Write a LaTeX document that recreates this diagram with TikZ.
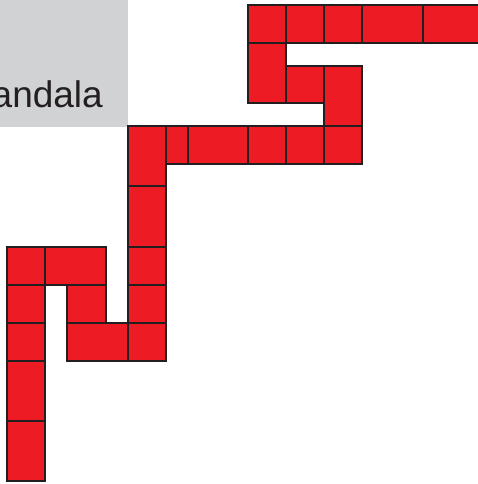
\documentclass[tikz,border=0pt]{standalone}
\usepackage{fontspec}
\setmainfont{Liberation Sans}

\begin{document}
\begin{tikzpicture}[x=1pt, y=-1pt,
    tile/.style={fill=tileColour, draw=borderColour, line width=2.8pt, line join=miter}]

    % Define the colours
    \definecolor{borderColour}{HTML}{231F20}
    \definecolor{tileColour}{HTML}{ED1C24}
    \definecolor{boxColour}{HTML}{D1D2D4}

    % Fix the frame and cut everything at its edges
    \useasboundingbox (0,0) rectangle (478,484);
    \clip (0,0) rectangle (478,484);

    % Draw the grey title box
    \fill[boxColour] (0,0) rectangle (128,127);
    \node[anchor=base east, inner sep=0pt, text=borderColour,
          font=\fontsize{37}{40}\selectfont] (title) at (103,107) {andala};

    % Draw the tiles of the path (x1/y1/x2/y2)
    \foreach \xa/\ya/\xb/\yb in {
        248/5/286/43, 286/5/324/43, 324/5/362/43, 362/5/423/43, 423/5/490/43,
        248/43/286/103, 286/66/324/103, 324/66/362/126,
        324/126/362/164, 286/126/324/164, 248/126/286/164,
        188/126/248/164, 166/126/188/164, 128/126/166/186,
        128/186/166/247, 128/247/166/285, 128/285/166/323, 128/323/166/361,
        67/323/128/361, 67/285/106/323, 45/247/106/285,
        7/247/45/285, 7/285/45/323, 7/323/45/361, 7/361/45/421, 7/421/45/481}
        \draw[tile] (\xa,\ya) rectangle (\xb,\yb);

\end{tikzpicture}
\end{document}
